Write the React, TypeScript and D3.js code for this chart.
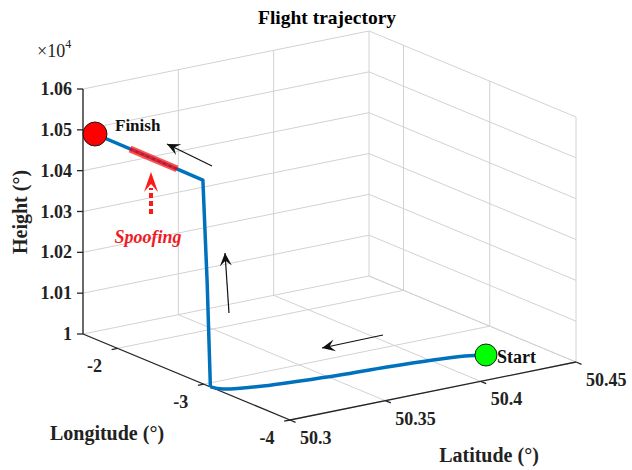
import React from "react";
import * as d3 from "d3";

// Flight path samples: latitude (deg), longitude (deg), altitude (m)
const latitude = [50.4242, 50.416, 50.4013, 50.3792, 50.3558, 50.3366, 50.3193, 50.3027, 50.3, 50.3, 50.3, 50.3, 50.3, 50.3];
const longitude = [-3.5265, -3.4653, -3.4187, -3.375, -3.3462, -3.3066, -3.2597, -3.1638, -3.077, -3.04, -2.99, -2.6, -2.2, -1.739];
const altitude = [10000, 10000, 10000, 10000, 10000, 10000, 10000, 10000, 10000, 10250, 10499, 10500, 10501, 10502];

// Portion of the path affected by spoofing
const spoofLatitude = [50.3, 50.3];
const spoofLongitude = [-2.69, -2.145];
const spoofAltitude = [10500, 10501];

// Axis limits and ticks
const latDomain = [50.3, 50.45];
const lonDomain = [-4, -1.6];
const altDomain = [10000, 10600];
const latTicks = [50.3, 50.35, 50.4, 50.45];
const latTickLabels = ["50.3", "50.35", "50.4", "50.45"];
const lonTicks = [-2, -3, -4];
const lonTickLabels = ["-2", "-3", "-4"];
const altTicks = [10000, 10100, 10200, 10300, 10400, 10500, 10600];
const altTickLabels = ["1", "1.01", "1.02", "1.03", "1.04", "1.05", "1.06"];

const FONT = "'Liberation Serif', 'Times New Roman', serif";
const GRID = "#d2d2d2";
const AXIS = "#262626";
const BLUE = "#0072BD";

// Direction arrows drawn over the axes (figure pixels)
const arrows = [
  { x1: 212, y1: 166, x2: 167, y2: 144 },
  { x1: 229, y1: 313, x2: 225, y2: 253 },
  { x1: 383, y1: 335, x2: 322, y2: 348 },
];

type P = [number, number];

export default function App() {
  const W = 632;
  const H = 470;

  // oblique view of the box: origin at (lat min, lon min, alt min)
  const origin: P = [290, 420];
  const latVec: P = [286, -58];
  const lonVec: P = [-207, -86];
  const altVec: P = [0, -245];

  const latS = d3.scaleLinear().domain(latDomain).range([0, 1]);
  const lonS = d3.scaleLinear().domain(lonDomain).range([0, 1]);
  const altS = d3.scaleLinear().domain(altDomain).range([0, 1]);

  const project = (lat: number, lon: number, alt: number): P => {
    const a = latS(lat);
    const b = lonS(lon);
    const c = altS(alt);
    return [
      origin[0] + a * latVec[0] + b * lonVec[0] + c * altVec[0],
      origin[1] + a * latVec[1] + b * lonVec[1] + c * altVec[1],
    ];
  };

  const line = d3.line<P>();
  const seg = (p: P, q: P) => line([p, q]) as string;

  const [latMin, latMax] = latDomain;
  const [lonMin, lonMax] = lonDomain;
  const [altMin, altMax] = altDomain;

  // grid lines on the back walls and the floor
  const grid: string[] = [];
  altTicks.forEach((z) => {
    grid.push(seg(project(latMin, lonMax, z), project(latMax, lonMax, z)));
    grid.push(seg(project(latMax, lonMax, z), project(latMax, lonMin, z)));
  });
  latTicks.forEach((la) => {
    grid.push(seg(project(la, lonMax, altMin), project(la, lonMax, altMax)));
    grid.push(seg(project(la, lonMin, altMin), project(la, lonMax, altMin)));
  });
  lonTicks.forEach((lo) => {
    grid.push(seg(project(latMax, lo, altMin), project(latMax, lo, altMax)));
    grid.push(seg(project(latMin, lo, altMin), project(latMax, lo, altMin)));
  });

  const path: P[] = latitude.map((la, i) => project(la, longitude[i], altitude[i]));
  const spoofPath: P[] = spoofLatitude.map((la, i) => project(la, spoofLongitude[i], spoofAltitude[i]));
  const start = path[0];
  const finish = path[path.length - 1];

  const norm = (v: P, len: number): P => {
    const l = Math.hypot(v[0], v[1]);
    return [(v[0] / l) * len, (v[1] / l) * len];
  };
  const lonTickDir = norm([-latVec[0], -latVec[1]], 6);
  const latTickDir = norm([-lonVec[0], -lonVec[1]], 6);

  const arrowHead = (x1: number, y1: number, x2: number, y2: number, len: number, half: number) => {
    const ang = Math.atan2(y2 - y1, x2 - x1);
    const ux = Math.cos(ang), uy = Math.sin(ang);
    const px = -uy, py = ux;
    const bx = x2 - ux * len, by = y2 - uy * len;
    const nx = x2 - ux * len * 0.6, ny = y2 - uy * len * 0.6;
    return `M${x2},${y2}L${bx + px * half},${by + py * half}L${nx},${ny}L${bx - px * half},${by - py * half}Z`;
  };

  const floorLine = d3.line<P>().curve(d3.curveCatmullRom.alpha(0.5));

  return (
    <svg width={W} height={H} style={{ position: "absolute", left: 0, top: 0, background: "#fff" }} fontFamily={FONT}>
      <text x={327} y={24} textAnchor="middle" fontSize={19.5} fontWeight="bold" fill="#000">
        Flight trajectory
      </text>

      <g stroke={GRID} strokeWidth={1} fill="none">
        {grid.map((d, i) => (
          <path key={i} d={d} />
        ))}
      </g>

      {/* axis lines */}
      <g stroke={AXIS} strokeWidth={1.3} fill="none">
        <path d={seg(project(latMin, lonMax, altMin), project(latMin, lonMax, altMax))} />
        <path d={seg(project(latMin, lonMax, altMin), project(latMin, lonMin, altMin))} />
        <path d={seg(project(latMin, lonMin, altMin), project(latMax, lonMin, altMin))} />
        {altTicks.map((z, i) => {
          const p = project(latMin, lonMax, z);
          return <path key={"zt" + i} d={seg(p, [p[0] - 6, p[1]])} />;
        })}
        {lonTicks.map((lo, i) => {
          const p = project(latMin, lo, altMin);
          return <path key={"lt" + i} d={seg(p, [p[0] + lonTickDir[0], p[1] + lonTickDir[1]])} />;
        })}
        {latTicks.map((la, i) => {
          const p = project(la, lonMin, altMin);
          return <path key={"at" + i} d={seg(p, [p[0] + latTickDir[0], p[1] + latTickDir[1]])} />;
        })}
      </g>

      {/* tick labels */}
      <g fontSize={18} fontWeight="bold" fill="#222">
        {altTicks.map((z, i) => {
          const p = project(latMin, lonMax, z);
          return (
            <text key={"zl" + i} x={p[0] - 11} y={p[1]} textAnchor="end" dominantBaseline="central">
              {altTickLabels[i]}
            </text>
          );
        })}
        {lonTicks.map((lo, i) => {
          const p = project(latMin, lo, altMin);
          return (
            <text key={"ll" + i} x={p[0] - 23} y={p[1] + 18} textAnchor="middle" dominantBaseline="central">
              {lonTickLabels[i]}
            </text>
          );
        })}
        {latTicks.map((la, i) => {
          const p = project(la, lonMin, altMin);
          return (
            <text key={"al" + i} x={p[0] + 10} y={p[1] + 18} textAnchor="start" dominantBaseline="central">
              {latTickLabels[i]}
            </text>
          );
        })}
        <text x={37} y={57} fontWeight="normal">
          ×10
          <tspan dy={-9} fontSize={12}>4</tspan>
        </text>
      </g>

      {/* axis titles */}
      <g fontSize={20} fontWeight="bold" fill="#222">
        <text x={107} y={440} textAnchor="middle">Longitude (°)</text>
        <text x={489} y={462} textAnchor="middle">Latitude (°)</text>
        <text transform="translate(27,212) rotate(-90)" textAnchor="middle">Height (°)</text>
      </g>

      {/* trajectory */}
      <path d={floorLine(path.slice(0, 9)) as string} fill="none" stroke={BLUE} strokeWidth={3.5} />
      <path d={line(path.slice(8)) as string} fill="none" stroke={BLUE} strokeWidth={3.5} strokeLinejoin="round" />

      {/* spoofed segment */}
      <path d={line(spoofPath) as string} fill="none" stroke="#ff1a1a" strokeOpacity={0.75} strokeWidth={7} />
      <path d={line(spoofPath) as string} fill="none" stroke="#c8102e" strokeWidth={2} strokeDasharray="3 3" />

      {/* endpoints */}
      <circle cx={start[0]} cy={start[1]} r={11} fill="#00ff00" stroke="#1a1a1a" strokeWidth={1} />
      <circle cx={finish[0]} cy={finish[1]} r={12} fill="#ff0000" stroke="#1a1a1a" strokeWidth={1} />
      <text x={start[0] + 11} y={start[1] + 8} fontSize={18} fontWeight="bold" fill="#111">Start</text>
      <text x={115} y={131} fontSize={17} fontWeight="bold" fill="#111">Finish</text>

      {/* direction arrows */}
      {arrows.map((a, i) => (
        <g key={"ar" + i}>
          <path d={seg([a.x1, a.y1], [a.x2, a.y2])} stroke="#111" strokeWidth={1.2} fill="none" />
          <path d={arrowHead(a.x1, a.y1, a.x2, a.y2, 13, 6)} fill="#111" />
        </g>
      ))}

      {/* spoofing marker */}
      <path d={seg([151, 214], [151, 188])} stroke="#ff1a1a" strokeWidth={4} strokeDasharray="5 3" fill="none" />
      <path d={arrowHead(151, 214, 151, 172, 20, 7)} fill="#ff1a1a" />
      <text x={148} y={243} textAnchor="middle" fontSize={18} fontWeight="bold" fontStyle="italic" fill="#ee1c25">
        Spoofing
      </text>
    </svg>
  );
}
